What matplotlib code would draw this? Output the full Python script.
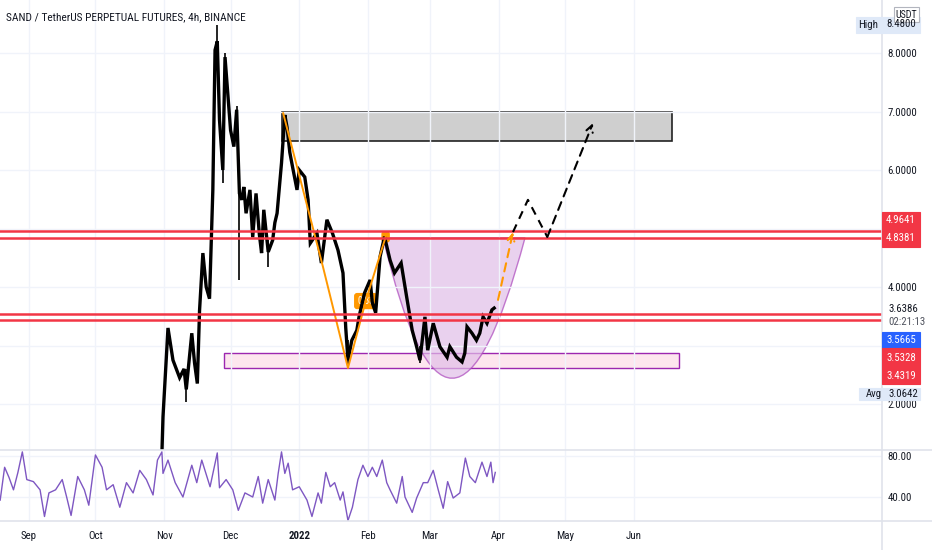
import matplotlib
matplotlib.use("Agg")
import matplotlib.pyplot as plt
import matplotlib.dates as mdates
from matplotlib import font_manager
from matplotlib.patches import Rectangle, PathPatch
from matplotlib.path import Path
from matplotlib.lines import Line2D
import pandas as pd

# pick a narrow face if one is installed, close to TradingView's look
installed = {f.name for f in font_manager.fontManager.ttflist}
narrow = [n for n in ['Roboto Condensed', 'Liberation Sans Narrow', 'Open Sans Condensed',
                      'DejaVu Sans Condensed'] if n in installed]
plt.rcParams['font.family'] = narrow[:1] + ['Liberation Sans', 'DejaVu Sans']
plt.rcParams['font.stretch'] = 'condensed'
SCALE = 1.0 if narrow else 0.88

# ---- data (SAND/USDT perp, 4h) ----
price_time = ["2021-10-28", "2021-10-31", "2021-10-31 12:00", "2021-11-02 18:00", "2021-11-05",
              "2021-11-08", "2021-11-10", "2021-11-11", "2021-11-13 12:00", "2021-11-14 18:00",
              "2021-11-16", "2021-11-17", "2021-11-18 12:00", "2021-11-20", "2021-11-21 12:00",
              "2021-11-23", "2021-11-24", "2021-11-25", "2021-11-26", "2021-11-27 12:00",
              "2021-11-28 12:00", "2021-12-01", "2021-12-02 12:00", "2021-12-03 18:00", "2021-12-05",
              "2021-12-06", "2021-12-07", "2021-12-08", "2021-12-09 18:00", "2021-12-11",
              "2021-12-12 12:00", "2021-12-14", "2021-12-15", "2021-12-16", "2021-12-18",
              "2021-12-20", "2021-12-21", "2021-12-22", "2021-12-24", "2021-12-25 12:00",
              "2021-12-26 12:00", "2021-12-27 18:00", "2021-12-29", "2021-12-31", "2022-01-01",
              "2022-01-03 12:00", "2022-01-05", "2022-01-06", "2022-01-09", "2022-01-11",
              "2022-01-13 12:00", "2022-01-16", "2022-01-18 12:00", "2022-01-20 18:00", "2022-01-22",
              "2022-01-23", "2022-01-24 18:00", "2022-01-27", "2022-01-28", "2022-01-30 12:00",
              "2022-02-02", "2022-02-03", "2022-02-04 12:00", "2022-02-06 12:00", "2022-02-08 12:00",
              "2022-02-11", "2022-02-13", "2022-02-16", "2022-02-18 12:00", "2022-02-21",
              "2022-02-23", "2022-02-24 12:00", "2022-02-26 18:00", "2022-02-28", "2022-03-02 12:00",
              "2022-03-05 12:00", "2022-03-08 18:00", "2022-03-10", "2022-03-13", "2022-03-15 12:00",
              "2022-03-16 18:00", "2022-03-17 18:00", "2022-03-20", "2022-03-22", "2022-03-23 12:00",
              "2022-03-25", "2022-03-26 18:00", "2022-03-29", "2022-03-30"]
price_close = [0.85, 1.15, 1.78, 3.30, 2.75,
               2.45, 2.60, 2.25, 3.21, 2.70,
               2.35, 3.60, 4.58, 4.00, 3.80,
               5.66, 8.05, 8.20, 6.86, 6.00,
               7.93, 6.68, 6.40, 7.03, 5.60,
               5.49, 5.71, 5.26, 5.66, 4.85,
               5.60, 4.90, 4.58, 5.32, 4.60,
               4.80, 5.10, 5.26, 6.12, 6.94,
               6.73, 6.30, 6.05, 5.66, 6.00,
               5.88, 5.49, 4.75, 4.92, 4.41,
               5.15, 4.92, 4.63, 4.24, 3.30,
               2.75, 3.09, 3.26, 3.49, 3.90,
               4.12, 3.73, 3.56, 4.52, 4.86,
               4.46, 4.24, 4.41, 3.83, 3.26,
               2.98, 2.75, 3.49, 2.92, 3.38,
               2.98, 2.80, 2.98, 2.80, 2.72,
               2.87, 3.32, 3.21, 3.09, 3.21,
               3.49, 3.38, 3.61, 3.64]

wick_time = ["2021-11-11", "2021-11-25", "2021-11-27 12:00", "2021-12-05", "2022-01-23",
             "2022-02-24 12:00", "2021-11-28 12:00", "2021-12-03 18:00", "2021-12-18"]
wick_low = [2.03, 7.80, 5.78, 4.12, 2.63, 2.70, 7.40, 6.60, 4.35]
wick_high = [2.60, 8.48, 6.40, 6.00, 3.10, 3.00, 8.00, 7.10, 4.80]

rsi_time = ["2021-08-19", "2021-08-21", "2021-08-23", "2021-08-25", "2021-08-27", "2021-08-29",
            "2021-08-31", "2021-09-03", "2021-09-06", "2021-09-08", "2021-09-10", "2021-09-13",
            "2021-09-16", "2021-09-18", "2021-09-20", "2021-09-23", "2021-09-26", "2021-09-28",
            "2021-10-01", "2021-10-04", "2021-10-06", "2021-10-09", "2021-10-12", "2021-10-15",
            "2021-10-18", "2021-10-21", "2021-10-24", "2021-10-27", "2021-10-29", "2021-10-31",
            "2021-10-31 12:00", "2021-11-02 18:00", "2021-11-06", "2021-11-09 12:00", "2021-11-13 12:00",
            "2021-11-15 18:00", "2021-11-18", "2021-11-21 18:00", "2021-11-25", "2021-11-26",
            "2021-11-29", "2021-12-02", "2021-12-04 12:00", "2021-12-07 12:00", "2021-12-11",
            "2021-12-13 12:00", "2021-12-15 12:00", "2021-12-18", "2021-12-21", "2021-12-22 12:00",
            "2021-12-24", "2021-12-25 12:00", "2021-12-27", "2021-12-29", "2022-01-01",
            "2022-01-04 12:00", "2022-01-06 18:00", "2022-01-09 12:00", "2022-01-11", "2022-01-13",
            "2022-01-15", "2022-01-17", "2022-01-19 12:00", "2022-01-20 18:00", "2022-01-23",
            "2022-01-25", "2022-01-27 12:00", "2022-01-29 18:00", "2022-02-01", "2022-02-03",
            "2022-02-05", "2022-02-07 12:00", "2022-02-09 12:00", "2022-02-11", "2022-02-14",
            "2022-02-16 12:00", "2022-02-17 18:00", "2022-02-21", "2022-02-23", "2022-02-26",
            "2022-02-28", "2022-03-02 12:00", "2022-03-04 18:00", "2022-03-07", "2022-03-09",
            "2022-03-11 12:00", "2022-03-14 12:00", "2022-03-17", "2022-03-19", "2022-03-21 12:00",
            "2022-03-24 12:00", "2022-03-26 18:00", "2022-03-28 12:00", "2022-03-29 12:00", "2022-03-30 12:00"]
rsi_value = [37, 69, 59, 47, 64, 84,
             57, 55, 47, 21, 44, 47,
             57, 40, 22, 60, 47, 32,
             81, 69, 47, 52, 30, 54,
             44, 66, 57, 42, 76, 84,
             63, 76, 54, 40, 71,
             54, 76, 50, 83, 49,
             57, 47, 27, 44, 40,
             60, 34, 57, 37, 63,
             84, 63, 73, 47, 50,
             37, 21, 44, 34, 64,
             50, 54, 37, 45, 17,
             30, 57, 71, 60, 69,
             60, 76, 54, 47, 34,
             60, 40, 25, 39, 54,
             54, 66, 47, 29, 55,
             39, 44, 78, 60, 54,
             74, 60, 74, 54, 64]

red_levels = [4.9641, 4.8381, 3.5328, 3.4319]

supply_time = ["2021-12-24", "2022-06-18 12:00"]
supply_price = [6.50, 7.00]
demand_time = ["2021-11-28", "2022-06-21 12:00"]
demand_price = [2.615, 2.87]

pattern_time = ["2021-12-24 18:00", "2022-01-11 18:00", "2022-01-23", "2022-01-31", "2022-02-09"]
pattern_price = [6.97, 4.34, 2.615, 3.76, 4.855]
pattern_label = "0.83"

cup_time = ["2022-02-07 20:00", "2022-03-11", "2022-04-12 22:00"]
cup_price = [4.84, 2.44, 4.84]

breakout_time = ["2022-03-31 18:00", "2022-04-07 12:00"]
breakout_price = [3.78, 4.94]
target_time = ["2022-04-07 12:00", "2022-04-14 06:00", "2022-04-23", "2022-05-13 14:00"]
target_price = [4.94, 5.49, 4.855, 6.80]

month_ticks = ["2021-09-01", "2021-10-01", "2021-11-01", "2021-12-01", "2022-01-01",
               "2022-02-01", "2022-03-01", "2022-04-01", "2022-05-01", "2022-06-01"]
month_labels = ["Sep", "Oct", "Nov", "Dec", "2022", "Feb", "Mar", "Apr", "May", "Jun"]

# ---- layout ----
W, H = 932, 550
TXT = "#131722"
GRID = "#f0f3fa"
SEP = "#e0e3eb"
RED = "#f23645"
FS = 7.8 * SCALE

fig = plt.figure(figsize=(W / 100, H / 100), dpi=100)
ax = fig.add_axes([0, 100 / H, 882 / W, 450 / H])
rax = fig.add_axes([0, 29 / H, 882 / W, 71 / H], sharex=ax)

def d(s):
    return mdates.date2num(pd.Timestamp(s))

ax.set_xlim(d("2021-08-18 22:00"), d("2022-09-21 02:00"))
ax.set_ylim(1.214, 8.906)
rax.set_ylim(16.6, 85.85)

for a in (ax, rax):
    for sp in a.spines.values():
        sp.set_visible(False)
    a.set_xticks([d(t) for t in month_ticks])
    a.grid(True, color=GRID, lw=1, zorder=0)
    a.yaxis.tick_right()
    a.tick_params(axis='y', length=0, pad=4, labelsize=FS, labelcolor=TXT)
    a.tick_params(axis='x', length=0)

ax.tick_params(axis='x', labelbottom=False)
rax.set_xticklabels(month_labels)
rax.tick_params(axis='x', pad=7, labelsize=FS, labelcolor=TXT)
for lab in rax.get_xticklabels():
    if lab.get_text() == "2022":
        lab.set_fontweight("bold")

ax.set_yticks([2, 3, 4, 5, 6, 7, 8])
ax.set_yticklabels(["2.0000", "", "4.0000", "", "6.0000", "7.0000", "8.0000"])
rax.set_yticks([40, 80])
rax.set_yticklabels(["40.00", "80.00"])

# zones
ax.add_patch(Rectangle((d(supply_time[0]), supply_price[0]), d(supply_time[1]) - d(supply_time[0]),
                       supply_price[1] - supply_price[0], facecolor="#cfcfcf", edgecolor="#222222",
                       lw=1.2, zorder=1))
ax.add_patch(Rectangle((d(demand_time[0]), demand_price[0]), d(demand_time[1]) - d(demand_time[0]),
                       demand_price[1] - demand_price[0], facecolor="#fde6ee", edgecolor="#9c27b0",
                       lw=1, zorder=1))

# cup drawn as a quadratic arc through its three anchors
S = (d(cup_time[0]), cup_price[0])
B = (d(cup_time[1]), cup_price[1])
E = (d(cup_time[2]), cup_price[2])
C = (2 * B[0] - (S[0] + E[0]) / 2, 2 * B[1] - (S[1] + E[1]) / 2)
cup = Path([S, C, E, S], [Path.MOVETO, Path.CURVE3, Path.CURVE3, Path.CLOSEPOLY])
ax.add_patch(PathPatch(cup, facecolor="#e1bee7", alpha=0.7, edgecolor="#ab47bc", lw=1, zorder=1.5))

# pattern label boxes (under the candles)
pt = [d(t) for t in pattern_time]
ax.annotate(pattern_label, (pt[3], pattern_price[3]), ha="center", va="center", fontsize=7,
            color="white", zorder=2,
            bbox=dict(boxstyle="round,pad=0.25", fc="#ff9800", ec="#ff9800"))
ax.annotate("  ", (pt[4], pattern_price[4]), ha="center", va="center", fontsize=6,
            zorder=2, bbox=dict(boxstyle="round,pad=0.2", fc="#ff9800", ec="#ff9800"))

# price
ptime = [d(t) for t in price_time]
ax.plot(ptime, price_close, color="black", lw=2.4, zorder=3, solid_joinstyle="miter")
ax.vlines([d(t) for t in wick_time], wick_low, wick_high, color="black", lw=1.2, zorder=3)

ax.plot(pt, pattern_price, color="#ff9800", lw=1.4, zorder=3.5)

for lv in red_levels:
    ax.axhline(lv, color=RED, lw=1.8, zorder=4)

# projection arrows
dash = (0, (4, 3))
ax.annotate("", xy=(d(breakout_time[1]), breakout_price[1]), xytext=(d(breakout_time[0]), breakout_price[0]),
            arrowprops=dict(arrowstyle="->", color="#ff9800", lw=1.5, linestyle=dash,
                            shrinkA=0, shrinkB=0, mutation_scale=12), zorder=5)
tt = [d(t) for t in target_time]
ax.plot(tt[:3], target_price[:3], color="black", lw=1.5, ls=dash, zorder=5)
ax.annotate("", xy=(tt[3], target_price[3]), xytext=(tt[2], target_price[2]),
            arrowprops=dict(arrowstyle="->", color="black", lw=1.5, linestyle=dash,
                            shrinkA=0, shrinkB=0, mutation_scale=12), zorder=5)

# rsi
rax.plot([d(t) for t in rsi_time], rsi_value, color="#7e57c2", lw=1, zorder=3)

# separators
fig.add_artist(Line2D([0, 1], [100 / H, 100 / H], color=SEP, lw=1.2, transform=fig.transFigure))
fig.add_artist(Line2D([0, 1], [29 / H, 29 / H], color=SEP, lw=1.2, transform=fig.transFigure))
fig.add_artist(Line2D([882 / W, 882 / W], [0, 1], color=SEP, lw=1.2, transform=fig.transFigure))

# title
fig.text(6 / W, 1 - 17 / H, "SAND / TetherUS PERPETUAL FUTURES, 4h, BINANCE",
         fontsize=(8.2 if narrow else 7.6), color=TXT, va="center", ha="left")

# price scale labels
def box(x0, y0, x1, y1, fc, ec=None):
    fig.add_artist(Rectangle((x0 / W, 1 - y1 / H), (x1 - x0) / W, (y1 - y0) / H,
                             transform=fig.transFigure, facecolor=fc,
                             edgecolor=ec if ec else fc, lw=0.8, zorder=5))

def label(x, y, s, color="white", ha="center", size=FS):
    fig.text(x / W, 1 - y / H, s, color=color, ha=ha, va="center", fontsize=size, zorder=6)

box(856, 17, 920, 33, "#dfe9f8")
label(868, 25, "High", color=TXT)
label(901, 24, "8.4800", color=TXT)
box(894, 7, 919, 22, "white", "#b2b5be")
label(906.5, 14.5, "USDT", color=TXT, size=FS * 0.92)

box(882, 212, 920, 247, RED)
label(901, 220, "4.9641")
label(901, 238, "4.8381")

label(888, 309, "3.6386", color=TXT, ha="left")
label(888, 322, "02:21:13", color="#50535e", ha="left")
box(882, 332, 920, 348, "#2962ff")
label(901, 340, "3.5665")
box(882, 348, 920, 384, RED)
label(901, 358, "3.5328")
label(901, 376, "3.4319")

box(859, 388, 920, 400, "#dfe9f8")
label(866, 394, "Avg", color=TXT, ha="left")
label(888, 394, "3.0642", color=TXT, ha="left")

fig.savefig("out.png", dpi=100)
